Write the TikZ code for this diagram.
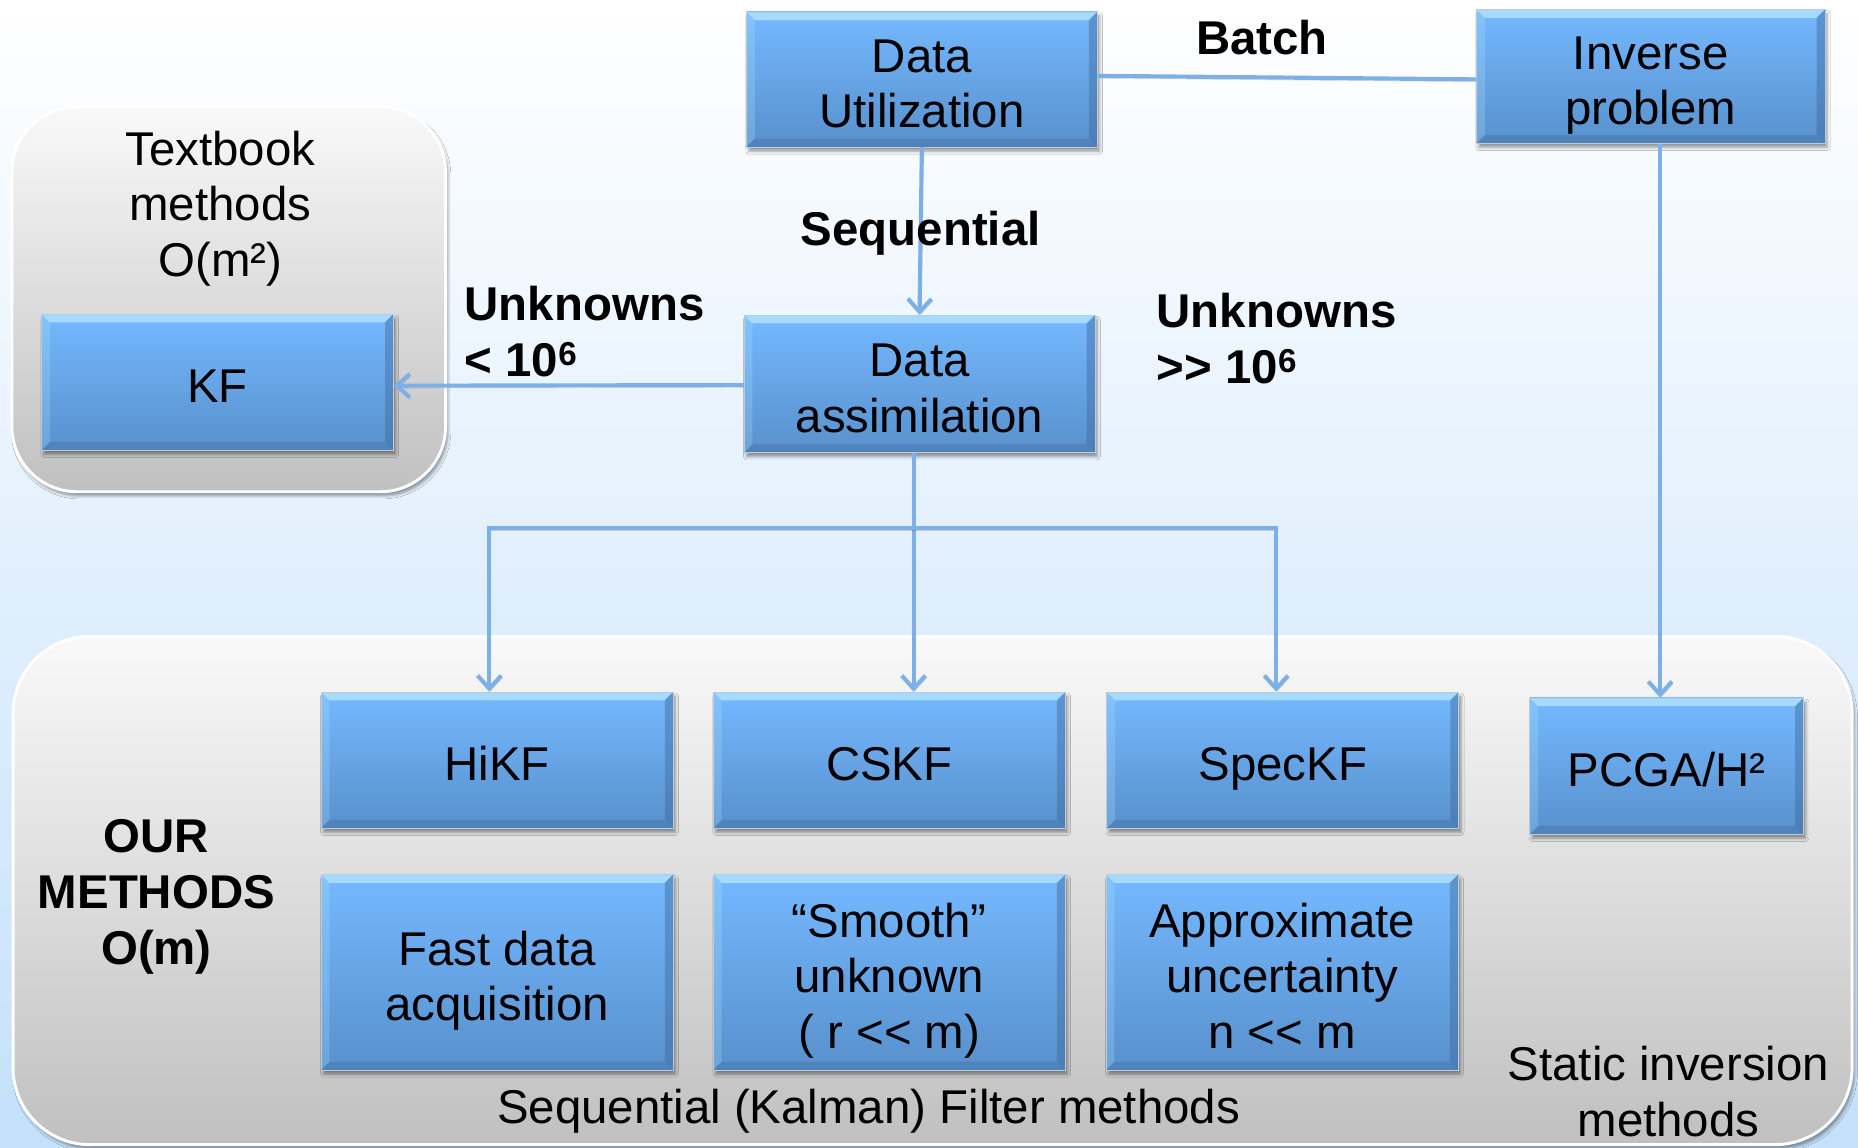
\documentclass[tikz,border=0pt]{standalone}
\usepackage{fontspec}
\setmainfont{Liberation Sans}
\usetikzlibrary{arrows.meta,shadows.blur}

\definecolor{bgtop}{HTML}{FFFFFF}
\definecolor{bgbot}{HTML}{C4E0FB}
\definecolor{boxtop}{HTML}{75B9FF}
\definecolor{boxbot}{HTML}{5890CC}
\definecolor{boxhi}{HTML}{B2E4FF}
\definecolor{boxlo}{HTML}{3F6A9C}
\definecolor{paneltop}{HTML}{F9F9F9}
\definecolor{panelbot}{HTML}{C0C0C0}
\definecolor{linkblue}{HTML}{7DB0E6}

% box labels: strut-spaced lines, set a little below the box centre
\newcommand{\boxlines}[1]{\raisebox{-8pt}[\height][\depth]{\begin{tabular}{@{}c@{}}#1\end{tabular}}}

\tikzset{
  txt/.style={font=\fontsize{40}{47}\selectfont, align=center, inner sep=0pt},
  boldtxt/.style={font=\fontsize{40}{47}\selectfont\bfseries, align=center, inner sep=0pt},
  softshadow/.style={blur shadow={shadow xshift=2pt, shadow yshift=-3.5pt,
      shadow blur radius=2.5pt, shadow opacity=40}},
  bluebox/.style={minimum width=297pt, minimum height=115pt, inner sep=0pt,
    font=\fontsize{40}{47}\selectfont,
    top color=boxtop, bottom color=boxbot, draw=boxlo!35, line width=0.5pt,
    softshadow,
    path picture={
      % bevelled rim: light top and left, dark right and bottom
      \fill[boxhi, opacity=.8]
        (path picture bounding box.north west) -- (path picture bounding box.north east)
        -- ([shift={(-7pt,-7pt)}]path picture bounding box.north east)
        -- ([shift={(7pt,-7pt)}]path picture bounding box.north west) -- cycle;
      \fill[boxhi, opacity=.25]
        (path picture bounding box.north west) -- ([shift={(7pt,-7pt)}]path picture bounding box.north west)
        -- ([shift={(7pt,7pt)}]path picture bounding box.south west)
        -- (path picture bounding box.south west) -- cycle;
      \fill[boxlo, opacity=.45]
        (path picture bounding box.north east) -- ([shift={(-7pt,-7pt)}]path picture bounding box.north east)
        -- ([shift={(-7pt,7pt)}]path picture bounding box.south east)
        -- (path picture bounding box.south east) -- cycle;
      \fill[boxlo, opacity=.35]
        (path picture bounding box.south west) -- ([shift={(7pt,7pt)}]path picture bounding box.south west)
        -- ([shift={(-7pt,7pt)}]path picture bounding box.south east)
        -- (path picture bounding box.south east) -- cycle;
    }},
  panel/.style={inner sep=0pt, top color=paneltop, bottom color=panelbot,
    draw=white, line width=2.5pt, softshadow},
  link/.style={draw=linkblue, line width=3.5pt,
    preaction={draw=black, draw opacity=.15, transform canvas={shift={(1pt,-2pt)}}}},
  conn/.style={link, -{Straight Barb[length=11pt,width=20pt]}}
}

\begin{document}
\begin{tikzpicture}[x=1pt,y=-1pt]
  % page and background wash
  \useasboundingbox (0,0) rectangle (1568,968);
  \shade[top color=bgtop, bottom color=bgbot] (0,0) rectangle (1568,968);

  % grey containers
  \node[panel, rounded corners=55pt, minimum width=366pt, minimum height=325pt]
    (textbook) at (193,252.5) {};
  \node[panel, rounded corners=65pt, minimum width=1552pt, minimum height=429pt]
    (ours) at (787,751.5) {};

  % blue boxes
  \node[bluebox, minimum width=296pt, minimum height=114pt] (du) at (778,67) {\boxlines{Data\\Utilization}};
  \node[bluebox, minimum width=294pt, minimum height=113pt] (ip) at (1393,64.5) {\boxlines{Inverse\\problem}};
  \node[bluebox, minimum width=296pt, minimum height=116pt] (da) at (776,324) {\boxlines{Data\\assimilation}};
  \node[bluebox] (kf) at (183.5,322.5) {\boxlines{KF}};

  \node[bluebox] (hi) at (419.5,641.5) {\boxlines{HiKF}};
  \node[bluebox] (cs) at (750.5,641.5) {\boxlines{CSKF}};
  \node[bluebox] (sp) at (1082.5,641.5) {\boxlines{SpecKF}};
  \node[bluebox, minimum width=231pt] (pc) at (1406.5,646.5) {\boxlines{PCGA/H²}};

  \node[bluebox, minimum height=165pt] (fd) at (419.5,820.5) {\boxlines{Fast data\\acquisition}};
  \node[bluebox, minimum height=165pt] (sm) at (750.5,820.5) {\boxlines{“Smooth”\\unknown\\( r <\kern0pt< m)}};
  \node[bluebox, minimum height=165pt] (ap) at (1082,820.5) {\boxlines{Approximate\\uncertainty\\n <\kern0pt< m}};

  % connectors
  \draw[link] ([yshift=3pt]du.east) -- ([yshift=-2.5pt]ip.west);
  \draw[conn] (du.south) -- (da.north);
  \draw[conn] ([yshift=-1pt]da.west) -- ([yshift=-3pt]kf.east);
  \draw[conn] ([xshift=-5pt]da.south) -- ([xshift=-5pt]da.south |- cs.north);
  \coordinate (split) at ([xshift=-5pt,yshift=-63pt]da.south);
  \draw[conn] (split) -| ([xshift=-6.5pt]hi.north);
  \draw[conn] (split) -| ([xshift=-5.5pt]sp.north);
  \draw[conn] ([xshift=8pt]ip.south) -- ([xshift=8pt]ip.south |- pc.north);

  % free-standing labels
  \node[txt] (tbtxt) at (186,176) {Textbook\\methods\\O(m²)};
  \node[boldtxt] (ourtxt) at (132,757) {OUR\\METHODS\\O(m)};
  \node[txt] (seqtxt) at (733,938) {Sequential (Kalman) Filter methods};
  \node[txt] (stattxt) at (1408,921) {Static inversion\\methods};

  \node[boldtxt] (batch) at (1065,32) {Batch};
  \node[boldtxt] (seq) at (777,197) {Sequential};
  \node[boldtxt, anchor=west, align=left] (small) at (392,280) {Unknowns\\< 10\textsuperscript{6}};
  \node[boldtxt, anchor=west, align=left] (large) at (976,286) {Unknowns\\>\kern0pt> 10\textsuperscript{6}};
\end{tikzpicture}
\end{document}
